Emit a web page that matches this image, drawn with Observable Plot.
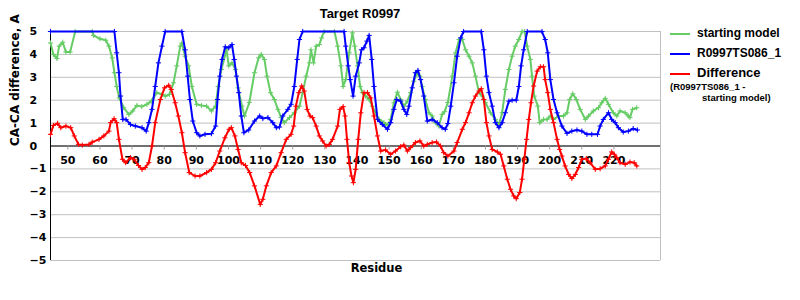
<!DOCTYPE html>
<html>
<head>
<meta charset="utf-8">
<script src="https://cdn.jsdelivr.net/npm/d3@7"></script>
<script src="https://cdn.jsdelivr.net/npm/@observablehq/plot@0.6"></script>
<style>
  body { margin: 0; background: white; }
  #wrap { position: relative; width: 800px; height: 300px; overflow: hidden; }
  #title { position: absolute; top: 6px; left: 300px; width: 120px; text-align: center;
           font: bold 13px "Liberation Sans", Arial, sans-serif; }
  .leg { position: absolute; font: bold 12px "Liberation Sans", Arial, sans-serif; white-space: nowrap; }
  .sw { position: absolute; width: 20px; height: 2px; }
  .small { position: absolute; font: bold 9.5px "Liberation Sans", Arial, sans-serif; white-space: nowrap; }
</style>
</head>
<body>
<div id="wrap">
  <div id="chart"></div>
  <div id="title">Target R0997</div>
  <div class="sw" style="left:670px;top:33px;background:#66cc66"></div>
  <div class="leg" style="left:697px;top:26px;">starting model</div>
  <div class="sw" style="left:670px;top:53px;background:#0000ff"></div>
  <div class="leg" style="left:697px;top:46px;">R0997TS086_1</div>
  <div class="sw" style="left:670px;top:73px;background:#ff0000"></div>
  <div class="leg" style="left:697px;top:65px;font-size:13px;">Difference</div>
  <div class="small" style="left:670px;top:81px;">(R0997TS086_1 -</div>
  <div class="small" style="left:702px;top:92px;">starting model)</div>
</div>
<script>
const xTicks = [50, 60, 70, 80, 90, 100, 110, 120, 130, 140, 150, 160, 170, 180, 190, 200, 210, 220];
const yTicks = [-5, -4, -3, -2, -1, 0, 1, 2, 3, 4, 5];

const startingModel = [
[44.6,4.5],[45.5,4.0],[46.6,3.82],[47.3,4.36],[48.4,4.53],[49.4,4.1],[50.7,4.1],[52.3,5],[57.6,5],[58,4.83],
[60,4.68],[61.8,4.62],[62.8,4.36],[63.8,3.85],[64.5,3.2],[65.2,2.6],[66,2.1],[67.4,1.67],[69,1.38],[70.2,1.53],
[71.5,1.77],[73,1.72],[74.6,1.82],[76,1.96],[77.7,2.33],[79.3,2.25],[80.3,2.18],[81.6,2.25],[82.9,2.76],[83.9,3.5],
[85,4.36],[85.5,4.5],[86.5,3.92],[87.6,3.5],[88.6,2.6],[90.1,1.82],[91.6,1.77],[93.2,1.74],[94.7,1.53],[96,1.74],
[96.8,2.6],[97.8,3.34],[99.4,4.2],[100.1,3.5],[101.1,3.63],[102.2,3.34],[103,2.54],[104.2,1.74],[105,1.31],[106.5,1.9],
[108.1,3.2],[109.4,3.85],[110.2,4.0],[111.2,3.78],[112,3.05],[113.1,2.33],[114.3,2.03],[115.4,1.6],[116.4,1.24],[117.4,1.02],
[119,1.24],[120.5,1.45],[122.1,1.74],[123.1,2.33],[124.2,3.05],[125.2,3.63],[125.7,4.2],[126.5,3.63],[127.3,4.36],[128.3,4.43],
[129,4.72],[129.8,5],[133,5],[134,4.36],[135,3.5],[135.7,2.6],[136.5,2.9],[137.6,4.07],[138.6,4.94],[139.3,4.36],
[140.2,3.5],[141,2.6],[141.7,2.33],[142.7,2.18],[143.8,2.03],[144.8,1.74],[145.8,1.45],[146.9,1.16],[148.4,1.02],[149.5,0.9],
[150.5,1.16],[151.5,1.89],[152.6,2.35],[153.6,2.03],[154.6,1.74],[155.7,1.96],[156.7,2.33],[157.7,2.83],[158.8,3.2],[159.6,3.05],
[160.3,2.6],[161.3,2.03],[162.4,1.45],[163.4,1.31],[164.4,1.02],[165.5,0.87],[166.5,1.38],[167.3,1.5],[168.3,1.9],[169.7,3.05],
[170.7,4.07],[171.8,4.65],[172.8,4.65],[173.8,4.2],[174.9,3.92],[175.9,3.63],[176.9,3.05],[178,2.33],[179,2.18],[180,1.89],
[181.6,1.45],[183.1,1.16],[184.2,0.94],[185.2,1.45],[186.2,2.47],[187.3,3.34],[188.3,3.92],[189.3,4.36],[190.4,4.65],[191.4,5],
[192.2,5],[193,4.36],[194,3.78],[194.5,3.05],[195.2,2.18],[196.3,1.74],[196.9,1.02],[198.1,1.16],[199.2,1.16],[200.2,1.31],
[201.2,1.16],[202.8,1.31],[204.3,1.31],[205.4,1.45],[206.2,2.03],[207.2,2.28],[208.3,2.03],[209.5,1.6],[211.1,1.16],[212.1,1.31],
[213.6,1.53],[215.2,1.67],[216.2,1.89],[217.3,2.08],[218.3,1.82],[219.8,1.45],[220.9,1.31],[221.9,1.53],[223.5,1.45],[224.5,1.31],
[225,1.24],[225.8,1.6],[227.1,1.67]
];

const model086 = [
[44.6,5],[64.5,5],[65.2,4.07],[65.9,3.2],[66.4,2.18],[67.1,1.16],[68.1,1.16],[69.5,0.94],[71,0.87],[73.1,0.8],
[74.4,0.65],[75.2,1.02],[76.2,1.6],[77.2,2.6],[78.2,3.63],[79.3,4.36],[80.3,5],[85.5,5],[86.5,4.2],[87.3,3.05],
[88,2.03],[88.9,1.09],[90.1,0.58],[91.1,0.44],[92.7,0.51],[94.7,0.54],[96,0.87],[96.6,2.03],[97.3,3.05],[98,3.78],
[99,4.33],[100.1,4.29],[101.1,4.43],[101.8,3.78],[102.5,3.05],[103.2,2.33],[104,1.31],[104.8,0.58],[106.3,0.7],[108.1,1.09],
[109.7,1.31],[110.7,1.2],[112.3,1.24],[113.8,1.02],[114.9,0.8],[115.9,0.83],[116.9,1.31],[118.5,1.6],[119.5,1.82],[120.5,2.6],
[121.4,3.78],[122.1,4.65],[123.1,5],[136,5],[136.5,4.36],[137.3,3.5],[137.9,2.9],[138.8,2.18],[139.6,3.05],[140.7,3.63],
[141.4,4.2],[142.2,4.29],[143.1,4.58],[143.8,4.83],[144.6,3.78],[145.3,2.6],[146.4,1.16],[147.9,0.94],[149.5,0.73],[150.5,1.02],
[151.5,1.6],[152.4,2.03],[153.6,1.96],[154.6,1.6],[155.5,1.38],[156.2,1.74],[157.2,2.54],[158.2,3.2],[159,3.3],[159.8,2.9],
[160.8,2.18],[161.9,1.09],[163.4,1.16],[165,1.02],[166.5,0.8],[167.5,0.73],[168.3,0.98],[169.2,1.74],[170.2,2.76],[171.2,3.92],
[172.3,4.72],[173.2,5],[178.7,5],[179.5,4.2],[180.3,3.05],[181.1,2.33],[182.1,1.74],[183.1,1.02],[184.2,0.8],[185.2,1.02],
[186.2,1.45],[187.3,1.96],[188.3,2.0],[189.6,2.0],[190.4,2.6],[191.1,3.5],[191.9,4.2],[193,5],[197.6,5],[198.6,4.65],
[199.4,4.07],[200.2,2.9],[201.2,2.03],[202.3,1.45],[203.8,0.87],[205.4,0.55],[206.9,0.65],[208.5,0.7],[210,0.65],[211.6,0.51],
[213.1,0.51],[214.9,0.51],[215.7,0.87],[216.7,1.16],[218.3,1.45],[219.3,1.16],[220.4,1.02],[221.4,0.8],[222.9,0.61],[224.5,0.65],
[226,0.76],[227.3,0.7]
];

const difference = [
[44.6,0.51],[45.5,0.9],[46.8,0.99],[47.8,0.8],[49.4,0.87],[50.9,0.8],[52,0.44],[53.3,0.07],[54.5,0.04],[56.6,0.07],
[57.6,0.17],[59.7,0.29],[61.2,0.44],[62.8,0.65],[63.3,1.02],[64.4,1.19],[65.2,1.02],[65.9,0.29],[67,-0.58],[68,-0.73],
[69.5,-0.51],[70.6,-0.58],[72,-0.85],[73.1,-1.02],[74.1,-0.94],[75.2,-0.73],[76.2,0],[77.2,1.02],[78.8,2.03],[80.1,2.54],
[81.4,2.65],[82.2,2.47],[83.4,1.89],[84.4,1.31],[85.5,0.58],[86.5,-0.29],[87.8,-1.16],[89.6,-1.31],[91.1,-1.31],[93.2,-1.16],
[94.7,-1.02],[96,-0.73],[97.3,-0.22],[98.9,0.36],[100.2,0.73],[100.9,0.8],[102,0.44],[103,-0.15],[104,-0.73],[105.3,-0.85],
[106.6,-1.16],[108.1,-1.74],[109.9,-2.55],[110.7,-2.33],[111.8,-1.74],[113.3,-1.16],[114.9,-0.87],[116.4,-0.29],[118,0.29],[119.5,0.51],
[120.3,0.87],[121,1.74],[121.9,2.33],[122.8,2.62],[123.6,2.4],[124.5,1.6],[125.4,1.31],[126.2,1.24],[127.3,0.87],[128.3,0.44],
[129.3,0.22],[130.4,0],[131.4,0.07],[132.4,0.29],[134,0.87],[134.7,1.6],[135.7,1.72],[136.3,1.31],[136.9,0.29],[137.6,-0.73],
[138.3,-1.31],[138.9,-1.6],[139.6,-1.02],[140.4,0.29],[141.2,1.45],[142.2,2.33],[143.3,2.33],[144.3,2.1],[145.3,1.31],[146.4,0.44],
[147.4,-0.22],[148.9,-0.17],[150.5,-0.36],[152,-0.22],[153.6,-0.03],[154.6,0.04],[155.7,-0.22],[156.7,-0.07],[158.2,0.15],[159.6,0.22],
[160.8,0],[161.9,0.07],[163.4,0.15],[164.8,0.17],[166,0],[167,-0.29],[168.3,-0.44],[170.2,-0.22],[171.2,0.15],[172.8,0.73],
[173.8,1.02],[174.9,1.45],[175.9,1.89],[176.9,2.18],[178,2.4],[178.7,2.5],[179.5,2.03],[180.3,1.02],[181.1,0.44],[182.1,-0.15],
[183.7,-0.26],[184.7,-0.36],[185.7,-0.87],[186.8,-1.45],[187.8,-1.89],[188.8,-2.18],[189.6,-2.3],[190.7,-2.03],[191.4,-1.45],[192.1,-0.58],
[192.8,0.29],[193.5,1.16],[194.2,1.89],[195,2.62],[196.1,3.27],[197.1,3.46],[198.1,3.46],[198.6,2.9],[199.4,2.33],[200.2,1.6],
[201.2,1.02],[202.3,0.29],[203.1,-0.15],[203.8,-0.44],[204.8,-0.87],[205.9,-1.24],[206.9,-1.42],[208,-1.24],[209,-0.94],[210,-0.58],
[211.4,-0.55],[212.6,-0.73],[214.2,-1.02],[215.7,-0.99],[217.3,-0.87],[218.3,-0.58],[219.3,-0.26],[220.1,-0.36],[220.9,-0.51],[221.9,-0.73],
[223.5,-0.8],[225,-0.7],[226.3,-0.73],[227.1,-0.87]
];

const xDomain = [44.6, 234.5];

const series = [
  { data: startingModel, color: "#66cc66" },
  { data: model086, color: "#0000ff" },
  { data: difference, color: "#ff0000" }
];

const lineMarks = series.flatMap(s => [
  Plot.line(s.data, { x: d => d[0], y: d => d[1], stroke: s.color, strokeWidth: 2 }),
  Plot.dot(s.data, { x: d => d[0], y: d => d[1], stroke: s.color, symbol: "plus", r: 1.8, strokeWidth: 1 })
]);

const chart = Plot.plot({
  width: 800,
  height: 300,
  marginLeft: 50,
  marginRight: 140,
  marginTop: 31,
  marginBottom: 40,
  x: { domain: xDomain, axis: null },
  y: { domain: [-5, 5], axis: null },
  style: { fontFamily: "DejaVu Sans", fontWeight: "bold", fontSize: "11px", background: "white", color: "black" },
  marks: [
    Plot.gridY(yTicks, { stroke: "#c0c0c0", strokeOpacity: 1 }),
    Plot.ruleX([xDomain[1]], { stroke: "#c0c0c0" }),
    Plot.ruleX([xDomain[0]], { stroke: "black" }),
    Plot.ruleY([0], { stroke: "black" }),
    Plot.ruleX(xTicks, { x: d => d, y1: 0, y2: -0.17, stroke: "#999" }),
    Plot.axisY(yTicks, { tickSize: 0, tickPadding: 21, textAnchor: "start", label: null, fontWeight: "bold", fontSize: 11 }),
    Plot.text(xTicks, { x: d => d, y: 0, dy: 14, text: d => String(d), fontWeight: "bold", fontSize: 11 }),
    Plot.text(["CA-CA difference, A"], { frameAnchor: "left", dx: -35, rotate: -90, fontSize: 12, fontWeight: "bold" }),
    Plot.text(["Residue"], { frameAnchor: "bottom", dx: 21, dy: 11, fontSize: 11.5, fontWeight: "bold" }),
    ...lineMarks
  ]
});
document.getElementById("chart").appendChild(chart);
</script>
</body>
</html>
